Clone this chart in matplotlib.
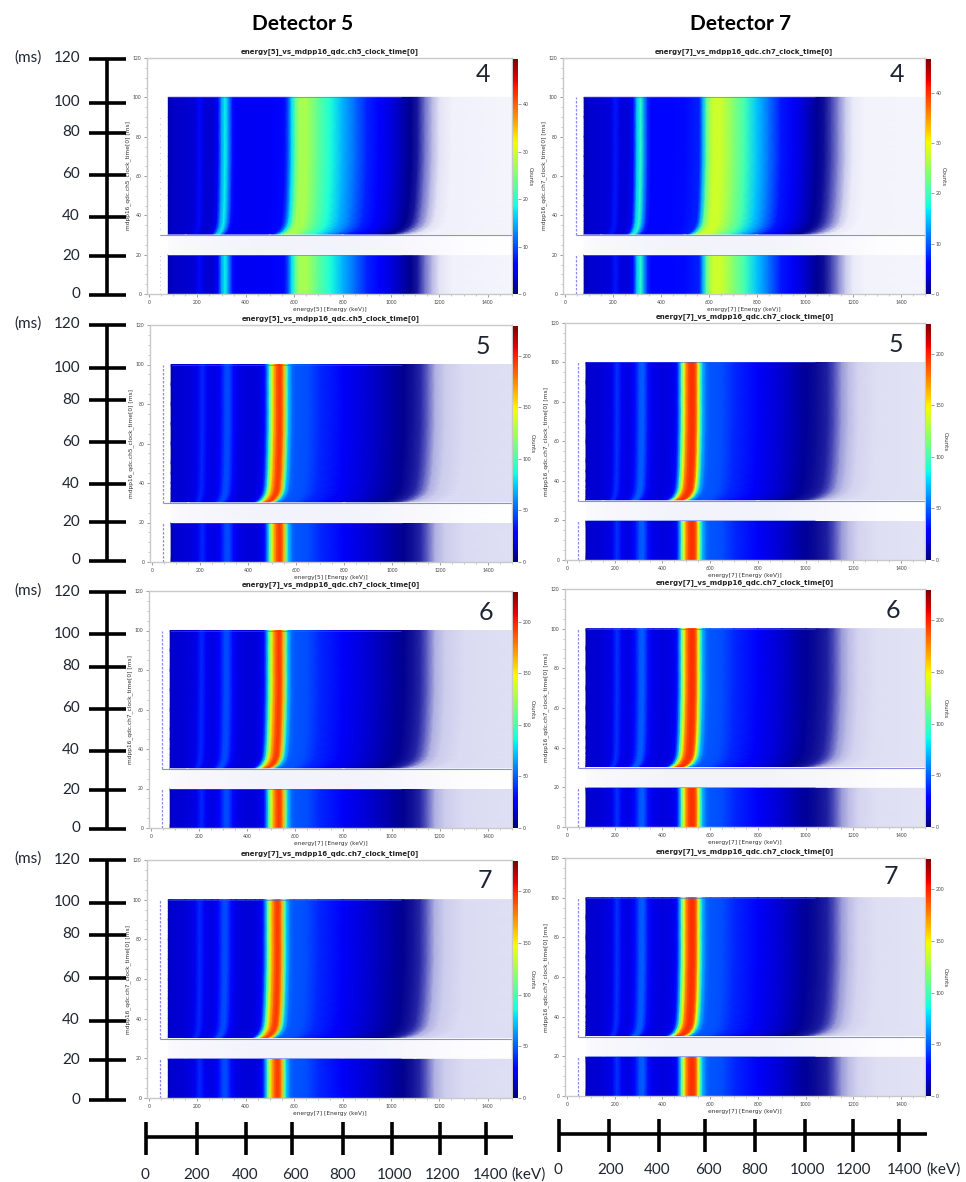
import numpy as np
import matplotlib
matplotlib.use("Agg")
import matplotlib.pyplot as plt
from matplotlib.colors import LinearSegmentedColormap, Normalize
from matplotlib.cm import ScalarMappable
from matplotlib.ticker import MultipleLocator

plt.rcParams['font.family'] = ['Lato', 'DejaVu Sans']

W, H = 966, 1182

# ---- data -----------------------------------------------------------------
energy_run4 = [80, 100, 150, 190, 210, 230, 260, 285, 300, 315, 330, 345, 360, 400, 500, 560, 575, 590, 605, 620,
               650, 700, 750, 800, 850, 900, 950, 1000, 1050, 1080, 1110, 1140, 1170, 1200, 1250, 1500]
counts_run4_det5 = [2.5, 3.2, 3.4, 3.8, 6.5, 3.8, 3.5, 5.5, 14, 18, 13, 7, 5.5, 5.2, 5.4, 6.5, 10, 17, 23, 27,
                    27.5, 23, 19, 15, 11.5, 8, 6, 4.2, 2.6, 2.0, 1.5, 1.0, 0.6, 0.32, 0.2, 0.16]
counts_run4_det7 = [2.5, 3.2, 3.5, 3.9, 7.0, 4.0, 3.6, 6.0, 15, 19, 13, 7.5, 6, 5.8, 6.2, 7.5, 14, 22, 26, 28,
                    28, 24, 20, 15, 11, 7, 5, 3.2, 2.0, 1.6, 1.2, 0.8, 0.45, 0.26, 0.18, 0.15]

energy_run567 = [80, 90, 150, 190, 210, 230, 260, 285, 305, 320, 340, 360, 400, 440, 460, 470, 480, 490, 500, 510,
                 520, 530, 540, 550, 560, 570, 585, 600, 650, 700, 800, 900, 1000, 1050, 1090, 1120, 1150, 1180,
                 1220, 1300, 1500]
counts_run567_det5 = [12, 16, 18, 22, 38, 24, 20, 28, 44, 46, 30, 21, 18, 19, 24, 32, 58, 98, 140, 168,
                      186, 194, 190, 165, 112, 72, 52, 48, 46, 38, 26, 17, 11, 9, 7.5, 6.5, 5, 3.0, 2.2, 1.7, 1.6]
counts_run567_det7 = [12, 16, 18, 22, 40, 24, 20, 30, 48, 50, 32, 22, 19, 21, 30, 55, 100, 145, 175, 190,
                      196, 196, 188, 150, 100, 68, 52, 48, 46, 38, 26, 16, 10, 8, 6.8, 5.5, 3.6, 2.6, 2.0, 1.6, 1.5]

time_rows_main = [30, 31, 32, 33, 34, 35, 37, 40, 45, 50, 60, 70, 80, 90, 100]
gain_rows_main = [0.90, 0.925, 0.945, 0.955, 0.965, 0.972, 0.98, 0.985, 0.99, 0.993, 0.997, 1.0, 1.0, 1.0, 1.0]
time_rows_low = [0, 20]
gain_rows_low = [1.0, 1.0]

gap_energy = [80, 150, 500, 800, 1100, 1300, 1500]
gap_share = [0.001, 0.002, 0.0035, 0.0035, 0.002, 0.0008, 0.0004]

colorbar_ticks_run4 = [0, 10, 20, 30, 40]
colorbar_ticks_run567 = [0, 50, 100, 150, 200]
time_ticks = [0, 20, 40, 60, 80, 100, 120]
energy_ticks = [0, 200, 400, 600, 800, 1000, 1200, 1400]

# ---- panels ----------------------------------------------------------------
panels = [
    dict(run=4, ch=5, box=(147, 512, 58, 294), vmax=49.5, prof='4_5', det_line=False, num=(483, 75)),
    dict(run=4, ch=7, box=(563, 925, 58, 294), vmax=46.7, prof='4_7', det_line=True, num=(897, 75)),
    dict(run=5, ch=5, box=(150, 512, 325, 562), vmax=229, prof='5_5', det_line=True, num=(483, 347)),
    dict(run=5, ch=7, box=(565, 925, 323, 560), vmax=229, prof='5_7', det_line=True, num=(896, 345)),
    dict(run=6, ch=7, box=(149, 512, 591, 828), vmax=229, prof='5_5', det_line=True, num=(486, 612)),
    dict(run=6, ch=7, box=(565, 925, 589, 827), vmax=229, prof='5_7', det_line=True, num=(893, 610)),
    dict(run=7, ch=7, box=(147, 512, 860, 1098), vmax=229, prof='5_5', det_line=True, num=(485, 880)),
    dict(run=7, ch=7, box=(565, 925, 858, 1096), vmax=229, prof='5_7', det_line=True, num=(891, 876)),
]
profiles = {
    '4_5': (energy_run4, counts_run4_det5),
    '4_7': (energy_run4, counts_run4_det7),
    '5_5': (energy_run567, counts_run567_det5),
    '5_7': (energy_run567, counts_run567_det7),
}

# Colour scale: jet, with the lowest part fading to white where points get sparse
stops = [(0.0, (1, 1, 1)), (0.005, (.93, .93, .98)), (0.01, (.78, .78, .92)), (0.02, (.45, .45, .8)),
         (0.03, (.1, .1, .62)), (0.04, (0, 0, .56))]
stops += [(x, plt.get_cmap('jet')(x)[:3]) for x in np.linspace(0.06, 1, 48)]
sparse_jet = LinearSegmentedColormap.from_list('sparse_jet', stops, N=2048)

fig = plt.figure(figsize=(W / 100, H / 100), dpi=100, facecolor='white')


def px_axes(l, r, t, b, **kw):
    return fig.add_axes([l / W, 1 - b / H, (r - l) / W, (b - t) / H], **kw)


GREY = '#c9c9c9'
TXT = '#444444'
LINE = '#8c8ce4'

ov = None
for p in panels:
    l, r, t, b = p['box']
    ax = px_axes(l, r, t, b)
    e, c = profiles[p['prof']]
    e = np.asarray(e, float)
    c = np.asarray(c, float)
    norm = Normalize(0, p['vmax'])

    for times, gains in ((time_rows_main, gain_rows_main), (time_rows_low, gain_rows_low)):
        times = np.asarray(times, float)
        gains = np.asarray(gains, float)
        X = np.outer(gains, e)
        X[:, 0] = e[0]
        X[:, -1] = e[-1]
        Y = np.repeat(times[:, None], len(e), axis=1)
        C = np.repeat(c[None, :], len(times), axis=0)
        ax.pcolormesh(X, Y, C, shading='gouraud', cmap=sparse_jet, norm=norm, rasterized=True)

    gx = np.asarray(gap_energy, float)
    gc = np.asarray(gap_share, float) * p['vmax']
    ax.pcolormesh(np.vstack([gx, gx]), np.array([[20.0] * len(gx), [30.0] * len(gx)]),
                  np.vstack([gc, gc]), shading='gouraud', cmap=sparse_jet, norm=norm)

    # thin structures in the 2-D histograms
    ax.hlines(30, 45, 1500, color=LINE, lw=0.8)
    ax.hlines(100, 80, 1040, color='#3a5cf0', lw=0.5, alpha=0.7)
    ax.hlines(20, 80, 1040, color='#3a5cf0', lw=0.5, alpha=0.7)
    if p['det_line']:
        ax.vlines(45, 30, 100, color=LINE, lw=0.9, linestyles=(0, (2, 1.2)))
        ax.vlines(45, 0, 20, color=LINE, lw=0.9, linestyles=(0, (2, 1.2)))
    else:
        ax.vlines(45, 30, 90, color='#a8a8e8', lw=0.6, linestyles=(0, (1, 6)))
        ax.vlines(45, 0, 20, color='#a8a8e8', lw=0.6, linestyles=(0, (1, 4)))

    ax.set_xlim(-8, 1500)
    ax.set_ylim(0, 120)
    for s in ax.spines.values():
        s.set_color(GREY)
        s.set_linewidth(1.0)
    ax.xaxis.set_major_locator(MultipleLocator(200))
    ax.xaxis.set_minor_locator(MultipleLocator(50))
    ax.yaxis.set_major_locator(MultipleLocator(20))
    ax.yaxis.set_minor_locator(MultipleLocator(5))
    ax.tick_params(which='major', length=2.5, width=0.5, color='#777777', labelsize=3.6, labelcolor=TXT, pad=1.5)
    ax.tick_params(which='minor', length=1.3, width=0.4, color='#999999')

    ax.set_title(f"energy[{p['ch']}]_vs_mdpp16_qdc.ch{p['ch']}_clock_time[0]", fontsize=5, fontweight='bold',
                 color='#222222', pad=3.5, family='DejaVu Sans')
    ax.set_xlabel(f"energy[{p['ch']}] [Energy (keV)]", fontsize=4.2, color='#333333', labelpad=2, family='DejaVu Sans')
    ax.set_ylabel(f"mdpp16_qdc.ch{p['ch']}_clock_time[0] [ms]", fontsize=4.2, color='#333333', labelpad=1.5,
                  family='DejaVu Sans')

    # colour bar
    cax = px_axes(r + 1, r + 6, t + 1, b)
    cb = fig.colorbar(ScalarMappable(norm=norm, cmap='jet'), cax=cax)
    cb.outline.set_visible(False)
    cb.set_ticks(colorbar_ticks_run4 if p['run'] == 4 else colorbar_ticks_run567)
    cb.ax.tick_params(length=2, width=0.5, color='#777777', labelsize=3.6, labelcolor=TXT, pad=1.2)
    cb.set_label('Counts', fontsize=4, rotation=-90, labelpad=3, color='#333333', family='DejaVu Sans')

# ---- hand-drawn scales and headings on top -----------------------------------
ov = fig.add_axes([0, 0, 1, 1], facecolor='none')
ov.set_xlim(0, W)
ov.set_ylim(H, 0)
ov.axis('off')

for p in panels:
    ov.text(p['num'][0], p['num'][1], str(p['run']), fontsize=18, color='#1d2433', ha='center', va='center')

time_scale_px = [
    [295, 256, 217, 175, 133, 103, 59],
    [561, 522, 484, 442, 400, 368, 325],
    [829, 790, 751, 709, 667, 634, 592],
    [1100, 1060, 1021, 978, 935, 903, 860],
]
LBL = '#1f2530'
for ys in time_scale_px:
    ov.plot([107, 107], [ys[0], ys[-1]], color='black', lw=2.6, solid_capstyle='butt')
    for tv, y in zip(time_ticks, ys):
        ov.plot([89, 126], [y, y], color='black', lw=2.6, solid_capstyle='butt')
        ov.text(80, y - 0.5, str(tv), fontsize=11, ha='right', va='center', color=LBL)
    ov.text(28, ys[-1] - 1, '(ms)', fontsize=11, ha='center', va='center', color=LBL)

energy_scales_px = [
    dict(xs=[146, 197, 246, 292, 343, 392, 440, 486], lx=[145, 197, 245, 295, 343, 395, 443, 491],
         y=1137, end=513, ly=1175, unit=529),
    dict(xs=[559, 609, 659, 705, 755, 805, 853, 899], lx=[558, 611, 657, 708, 755, 808, 854, 905],
         y=1134, end=927, ly=1170, unit=944),
]
for s in energy_scales_px:
    ov.plot([s['xs'][0], s['end']], [s['y'], s['y']], color='black', lw=2.6, solid_capstyle='butt')
    for v, x, lx in zip(energy_ticks, s['xs'], s['lx']):
        ov.plot([x, x], [s['y'] - 15, s['y'] + 18], color='black', lw=2.6, solid_capstyle='butt')
        ov.text(lx, s['ly'], str(v), fontsize=11, ha='center', va='center', color=LBL)
    ov.text(s['unit'], s['ly'], '(keV)', fontsize=11, ha='center', va='center', color=LBL)

ov.text(303, 24, 'Detector 5', fontsize=15, fontweight='bold', ha='center', va='center', color='black')
ov.text(741, 24, 'Detector 7', fontsize=15, fontweight='bold', ha='center', va='center', color='black')

fig.savefig('out.png', dpi=100)
